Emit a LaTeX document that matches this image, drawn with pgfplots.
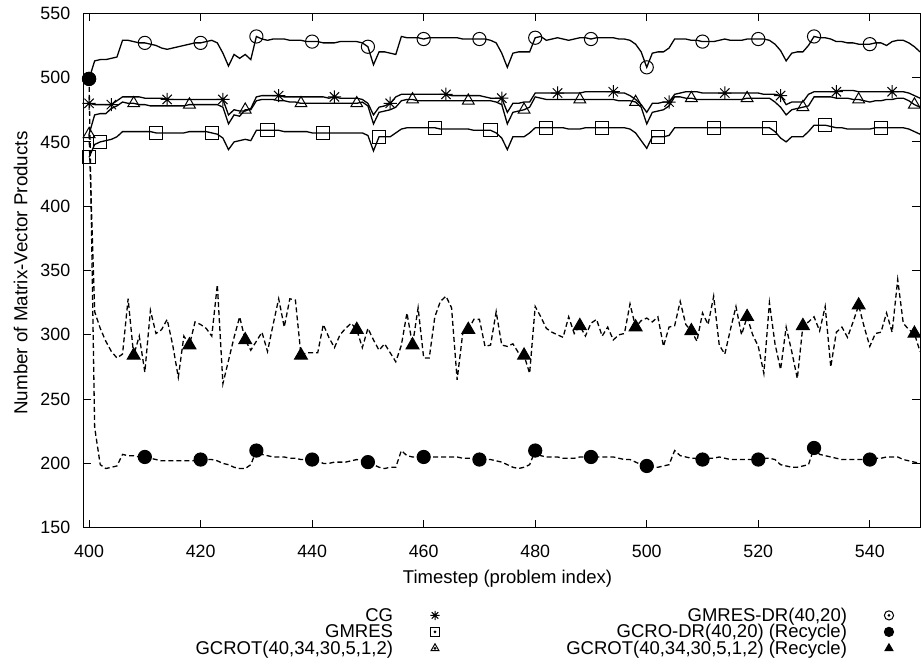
\documentclass[border=0pt]{standalone}
\usepackage{fontspec}
\setmainfont{Liberation Sans}
\usepackage{pgfplots}
\usepackage{pgfplotstable}
\pgfplotsset{compat=1.18}
\pgfdeclareplotmark{ast8}{%
  \pgfpathmoveto{\pgfqpoint{-\pgfplotmarksize}{0pt}}%
  \pgfpathlineto{\pgfqpoint{\pgfplotmarksize}{0pt}}%
  \pgfpathmoveto{\pgfqpoint{0pt}{-\pgfplotmarksize}}%
  \pgfpathlineto{\pgfqpoint{0pt}{\pgfplotmarksize}}%
  \pgfpathmoveto{\pgfqpoint{-.7071\pgfplotmarksize}{-.7071\pgfplotmarksize}}%
  \pgfpathlineto{\pgfqpoint{.7071\pgfplotmarksize}{.7071\pgfplotmarksize}}%
  \pgfpathmoveto{\pgfqpoint{-.7071\pgfplotmarksize}{.7071\pgfplotmarksize}}%
  \pgfpathlineto{\pgfqpoint{.7071\pgfplotmarksize}{-.7071\pgfplotmarksize}}%
  \pgfusepathqstroke}
\pgfplotstableread{
x cg gmres gcrot gmresdr gcrodr gcrotr
400 480 438 456 499 499 456
401 479 448 471 513 228 318
402 479 450 472 514 199 305
403 479 451 472 514 196 295
404 479 452 476 515 197 287
405 482 454 478 516 198 282
406 485 458 481 529 207 285
407 485 458 480 529 206 328
408 485 458 480 528 206 284
409 485 458 479 527 205 299
410 484 458 479 527 205 271
411 484 458 478 526 204 319
412 484 457 478 525 203 301
413 484 457 478 523 202 304
414 483 457 478 522 202 312
415 483 457 478 523 202 292
416 483 457 478 524 202 267
417 483 457 478 525 202 299
418 483 458 479 526 202 292
419 483 458 479 527 202 310
420 483 458 479 527 203 308
421 483 458 479 528 203 305
422 483 457 479 529 203 299
423 483 456 479 527 202 339
424 483 453 477 519 200 262
425 471 444 464 509 199 280
426 475 450 471 518 197 298
427 474 451 470 515 196 314
428 474 452 475 518 196 296
429 476 451 475 514 199 288
430 485 459 482 532 210 295
431 486 459 483 530 207 302
432 486 459 483 529 206 287
433 486 459 483 530 205 308
434 486 459 482 530 205 328
435 485 458 482 530 205 306
436 485 458 481 529 204 328
437 485 458 481 529 204 327
438 485 458 480 529 203 284
439 485 458 480 528 203 286
440 485 457 480 528 203 286
441 485 457 480 528 202 286
442 485 457 480 527 200 308
443 484 457 480 527 200 298
444 485 457 480 527 201 290
445 484 457 480 528 201 300
446 484 457 480 528 201 305
447 484 457 480 528 202 309
448 484 457 480 528 203 304
449 483 457 481 527 202 290
450 480 455 478 524 201 305
451 471 443 464 510 199 296
452 477 454 473 520 197 288
453 478 454 474 520 196 293
454 480 454 475 519 197 286
455 485 457 477 518 197 279
456 487 460 482 532 210 292
457 487 461 483 531 206 317
458 487 461 483 531 205 292
459 487 461 482 531 205 321
460 487 461 482 530 205 282
461 487 461 482 531 205 282
462 487 461 482 531 205 314
463 487 460 482 531 205 326
464 487 460 482 531 205 330
465 486 460 482 531 205 321
466 486 460 482 531 205 265
467 486 460 482 530 204 301
468 486 460 482 530 204 304
469 486 459 482 530 204 312
470 486 459 482 530 203 312
471 485 459 482 530 203 291
472 484 459 482 529 203 292
473 484 457 481 527 202 318
474 484 453 479 519 201 292
475 473 444 464 508 199 291
476 480 454 473 519 197 293
477 480 454 474 520 196 286
478 481 454 475 520 197 284
479 481 457 477 520 199 270
480 488 461 485 531 210 322
481 488 461 484 532 206 314
482 488 461 483 529 205 305
483 488 461 483 530 205 302
484 488 461 483 531 205 300
485 488 461 483 530 204 298
486 488 460 483 529 204 314
487 488 460 483 530 204 301
488 488 460 483 531 205 307
489 489 461 483 531 205 299
490 489 461 483 530 205 309
491 489 461 483 531 205 312
492 489 461 483 531 205 299
493 489 461 483 531 205 306
494 489 461 483 531 205 296
495 488 461 482 530 204 300
496 488 461 482 530 203 301
497 486 460 482 529 203 324
498 483 457 481 526 201 306
499 479 451 477 520 199 311
500 473 445 464 508 198 313
501 480 454 473 519 197 310
502 480 454 474 520 197 314
503 481 454 475 520 198 291
504 481 455 478 523 199 306
505 487 461 485 530 210 307
506 488 461 485 530 206 326
507 489 461 484 530 205 308
508 489 461 484 529 204 303
509 489 461 483 529 204 295
510 488 461 483 528 203 317
511 488 461 483 528 204 308
512 488 461 483 528 204 330
513 488 461 483 529 205 292
514 488 461 483 530 204 285
515 488 461 483 529 203 304
516 488 461 483 529 203 322
517 488 461 483 529 203 300
518 488 461 484 530 203 314
519 488 461 484 530 203 300
520 488 461 484 530 203 291
521 487 461 484 530 204 270
522 487 461 484 529 204 325
523 487 458 481 526 203 293
524 486 453 477 521 199 273
525 479 450 471 513 198 306
526 481 454 475 519 197 287
527 481 454 476 520 197 266
528 481 454 477 520 198 307
529 487 458 478 525 199 310
530 489 463 485 532 212 314
531 489 463 485 531 207 303
532 489 463 485 531 206 322
533 489 462 485 530 205 275
534 489 461 484 528 204 302
535 490 461 484 528 203 306
536 490 460 484 527 203 298
537 490 460 483 527 203 310
538 489 460 483 526 203 323
539 489 460 482 526 203 306
540 489 460 481 526 203 291
541 489 461 482 527 204 301
542 489 461 482 527 204 302
543 489 461 483 525 205 317
544 489 461 483 528 205 302
545 489 461 484 529 205 343
546 489 461 484 529 203 309
547 488 460 482 527 202 304
548 486 458 479 524 201 301
549 484 456 477 520 200 287
}\datatab
\pgfplotsset{
  commonbox/.style={at={(0,0)}, anchor=south west, width=418.25bp, height=257.2bp, scale only axis},
  legbox/.style={commonbox, hide axis, xmin=0, xmax=1, ymin=0, ymax=1,
    legend plot pos=right, legend cell align=right,
    legend style={anchor=north east, draw=none, fill=none, inner sep=0pt, outer sep=0pt,
      row sep=0pt, column sep=18.7bp,
      nodes={inner sep=0pt, text height=6.6bp, text depth=1.65bp},
      cells={anchor=base east},
      font=\fontsize{9.25bp}{11bp}\selectfont},
    legend image code/.code={\draw[##1, solid, mark repeat=1, mark phase=1, mark size=2.3bp] plot coordinates {(0bp,3bp)};
      \fill[black] (0bp,3bp) circle (0.4bp);}},
}
\begin{document}
\begin{tikzpicture}
\useasboundingbox (-41.75bp,-69.65bp) rectangle (418.75bp,263.85bp);
\begin{axis}[commonbox,
  xmin=399, xmax=549, ymin=150, ymax=550,
  xtick={400,420,...,540}, ytick={150,200,...,550},
  tick align=inside, major tick length=4bp,
  axis line style={line width=0.5bp},
  every tick/.style={line width=0.5bp, black},
  font=\fontsize{9.25bp}{11bp}\selectfont,
  ticklabel style={font=\fontsize{8.9bp}{10bp}\selectfont},
  /pgf/number format/assume math mode=true,
  /pgf/number format/1000 sep={},
  yticklabel style={xshift=-3.15bp},
  xticklabel style={yshift=-5bp},
  xlabel={Timestep (problem index)},
  ylabel={Number of Matrix-Vector Products},
  xlabel style={at={(axis description cs:0.5069,-0.1081)}, anchor=base},
  ylabel style={at={(axis description cs:-0.0751,0.495)}, anchor=center, font=\fontsize{9.4bp}{11bp}\selectfont},
  mark options={solid, line width=0.5bp},
  every axis plot/.append style={black, line width=0.65bp},
]
\addplot[mark=ast8, mark size=3.3bp, mark repeat=10, mark phase=5] table[x=x,y=cg]{\datatab};
\addplot[only marks, mark=ast8, mark size=3.3bp, forget plot] coordinates {(400,480)};
\addplot[mark=square, mark size=3.3bp, mark repeat=10, mark phase=3] table[x=x,y=gmres]{\datatab};
\addplot[only marks, mark=square, mark size=3.3bp, forget plot] coordinates {(400,438)};
\addplot[mark=triangle, mark size=3.4bp, mark repeat=10, mark phase=9] table[x=x,y=gcrot]{\datatab};
\addplot[only marks, mark=triangle, mark size=3.4bp, forget plot] coordinates {(400,456)};
\addplot[mark=o, mark size=3.3bp, mark repeat=10, mark phase=1] table[x=x,y=gmresdr]{\datatab};
\addplot[dash pattern=on 2.5bp off 1.5bp, mark=*, mark size=3.3bp, mark repeat=10, mark phase=1] table[x=x,y=gcrodr]{\datatab};
\addplot[dash pattern=on 2.5bp off 1.5bp, mark=triangle*, mark size=3.7bp, mark repeat=10, mark phase=9] table[x=x,y=gcrotr]{\datatab};
\end{axis}
\begin{axis}[legbox, legend style={at={(0.4257,-0.1565)}}]
\addlegendimage{black, mark=ast8, line width=0.5bp}
\addlegendentry{CG}
\addlegendimage{black, mark=square, line width=0.5bp}
\addlegendentry{GMRES}
\addlegendimage{black, mark=triangle, line width=0.5bp}
\addlegendentry{GCROT(40,34,30,5,1,2)}
\end{axis}
\begin{axis}[legbox, legend style={at={(0.9684,-0.1565)}}]
\addlegendimage{black, mark=o, line width=0.5bp}
\addlegendentry{GMRES-DR(40,20)}
\addlegendimage{black, mark=*, line width=0.5bp}
\addlegendentry{GCRO-DR(40,20) (Recycle)}
\addlegendimage{black, mark=triangle*, line width=0.5bp}
\addlegendentry{GCROT(40,34,30,5,1,2) (Recycle)}
\end{axis}
\end{tikzpicture}
\end{document}
